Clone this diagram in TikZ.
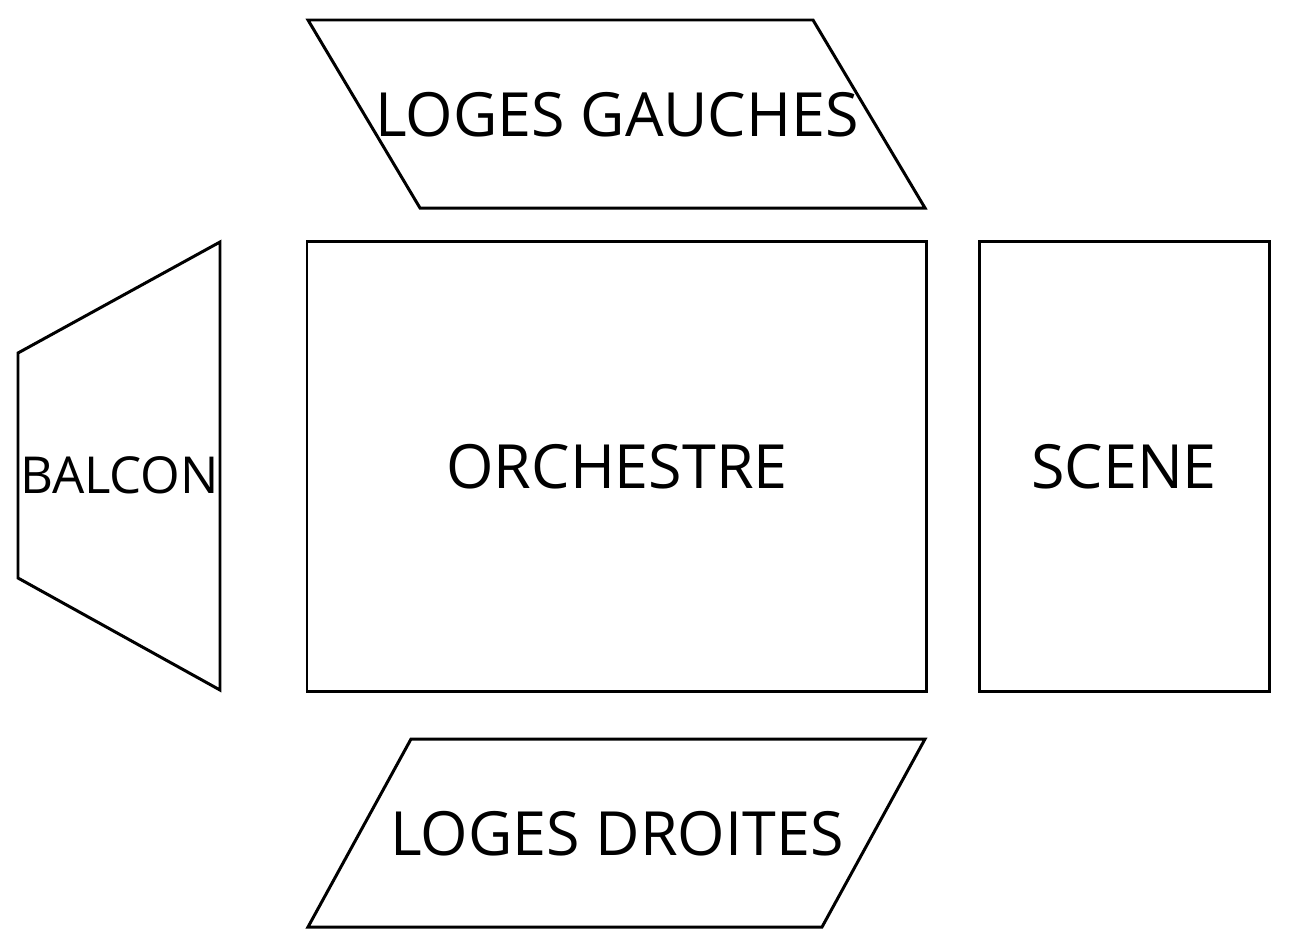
\documentclass[tikz,border=0pt]{standalone}
\usepackage{fontspec}
\setmainfont{Open Sans}
\begin{document}
\begin{tikzpicture}[x=0.02cm,y=-0.02cm,
    salle/.style={draw=black,line width=1.7pt,line join=miter},
    titre/.style={inner sep=0pt,font=\fontsize{34.7}{40}\selectfont},
    petit/.style={inner sep=0pt,font=\fontsize{29}{32}\selectfont}]
    \useasboundingbox (0,0) rectangle (1293,951);
    % loges du haut
    \draw[salle] (308,20) -- (813,20) -- (925,208) -- (420,208) -- cycle;
    \node[titre] (gauches) at (617,114.5) {LOGES GAUCHES};
    % orchestre et scene
    \draw[salle] (307,241) rectangle (926,691);
    \node[titre] (orchestre) at (617,467) {ORCHESTRE};
    \draw[salle] (979,241) rectangle (1269,691);
    \node[titre] (scene) at (1124,467) {SCENE};
    % balcon
    \draw[salle] (220,242) -- (220,690) -- (18,578) -- (18,353) -- cycle;
    \node[petit] (balcon) at (119.5,475) {BALCON};
    % loges du bas
    \draw[salle] (411,739) -- (925,739) -- (822,927) -- (308,927) -- cycle;
    \node[titre] (droites) at (617,833.5) {LOGES DROITES};
\end{tikzpicture}
\end{document}
